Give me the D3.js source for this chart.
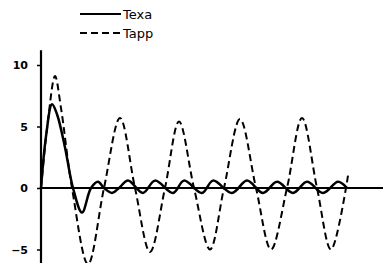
<!DOCTYPE html>
<html>
<head>
<meta charset="utf-8">
<script src="https://cdn.jsdelivr.net/npm/d3@7"></script>
<style>
  body { margin: 0; background: #fff; }
  svg { display: block; }
  .tick text { font-family: "DejaVu Sans", sans-serif; font-size: 11px; font-weight: bold; fill: #000; }
  .legend text { font-family: "DejaVu Sans", sans-serif; font-size: 13px; fill: #000; }
</style>
</head>
<body>
<div id="chart"></div>
<script>
// time (arbitrary units) and values
let tappT = [0, 0.7, 1.4, 2.0, 3.1, 4.7, 6.3, 7.9, 9.4, 10.9, 12.4, 13.8, 15.3, 16.9, 18.3, 19.9, 21.5, 23.0, 24.6, 26.1, 27.6, 29.0, 30.7];
let tappV = [0, 5.5, 9.1, 6.5, 0, -6.2, 0, 5.7, 0, -5.2, 0, 5.4, 0, -5.0, 0, 5.6, 0, -5.0, 0, 5.7, 0, -5.0, 1.0];

let texaT = [0, 0.5, 1.1, 1.6, 2.4, 3.2, 4.1, 5.0, 5.7, 6.3, 7.1, 7.8, 8.7, 10.2, 11.4, 13.2, 14.3, 16.1, 17.2, 19.1, 20.6, 22.2, 23.6, 25.2, 26.6, 28.2, 29.7, 30.6];
let texaV = [0, 4.2, 6.8, 6.0, 3.3, 0, -2.0, 0, 0.5, 0, -0.4, 0, 0.6, -0.4, 0.6, -0.4, 0.6, -0.4, 0.6, -0.4, 0.6, -0.4, 0.5, -0.4, 0.5, -0.4, 0.5, 0];

let yTicks = [10, 5, 0, -5];
let seriesNames = ["Texa", "Tapp"];

var w = 383, h = 263;
var svg = d3.select("#chart").append("svg").attr("width", w).attr("height", h);

var x = d3.scaleLinear().domain([0, 34.2]).range([41, 383]);
var y = d3.scaleLinear().domain([0, 10]).range([188, 65]);

// y axis
var yAxis = d3.axisLeft(y).tickValues(yTicks).tickSize(4).tickPadding(9).tickFormat(d3.format("d"));
var ga = svg.append("g").attr("transform", "translate(" + x(0) + ",0)").call(yAxis);
ga.select(".domain").remove();
ga.selectAll(".tick line").attr("stroke", "#000").attr("stroke-width", 1.5);
svg.append("line")
  .attr("x1", x(0)).attr("x2", x(0))
  .attr("y1", y(11.2)).attr("y2", h)
  .attr("stroke", "#000").attr("stroke-width", 2.2);

// zero line
svg.append("line")
  .attr("x1", x(0)).attr("x2", w)
  .attr("y1", y(0)).attr("y2", y(0))
  .attr("stroke", "#000").attr("stroke-width", 2.2);

var line = d3.line()
  .x(function(d) { return x(d[0]); })
  .y(function(d) { return y(d[1]); })
  .curve(d3.curveCatmullRom.alpha(0.5));

svg.append("path")
  .datum(d3.zip(tappT, tappV))
  .attr("d", line)
  .attr("fill", "none")
  .attr("stroke", "#000")
  .attr("stroke-width", 2)
  .attr("stroke-dasharray", "7,4");

svg.append("path")
  .datum(d3.zip(texaT, texaV))
  .attr("d", line)
  .attr("fill", "none")
  .attr("stroke", "#000")
  .attr("stroke-width", 2.5);

// legend
var lg = svg.append("g").attr("class", "legend");
seriesNames.forEach(function(name, i) {
  var ly = 14 + i * 19;
  lg.append("line")
    .attr("x1", 80).attr("x2", 121)
    .attr("y1", ly).attr("y2", ly)
    .attr("stroke", "#000")
    .attr("stroke-width", 1.8)
    .attr("stroke-dasharray", i ? "7,4" : null);
  lg.append("text")
    .attr("x", 123).attr("y", ly)
    .attr("dy", "0.35em")
    .text(name);
});
</script>
</body>
</html>
